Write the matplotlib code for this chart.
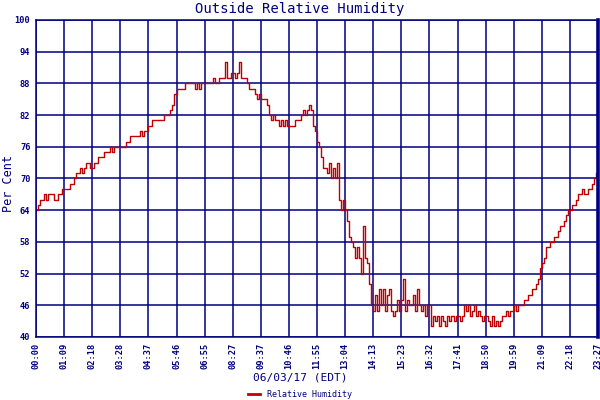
import numpy as np
import matplotlib
matplotlib.use("Agg")
import matplotlib.pyplot as plt
from matplotlib.lines import Line2D

# Readings, one every ~2 px of the original chart (14 per grid interval)
humidity = [
    64, 65, 66, 66, 67, 66, 67, 67, 67, 66, 66, 67, 67, 68,
    68, 68, 68, 69, 69, 70, 71, 71, 72, 71, 72, 73, 73, 72,
    72, 73, 73, 74, 74, 74, 75, 75, 75, 76, 75, 76, 76, 76,
    76, 76, 76, 77, 77, 78, 78, 78, 78, 78, 79, 78, 79, 79,
    80, 80, 81, 81, 81, 81, 81, 81, 82, 82, 82, 83, 84, 86,
    87, 87, 87, 87, 88, 88, 88, 88, 88, 87, 88, 87, 88, 88,
    88, 88, 88, 88, 89, 88, 88, 89, 89, 89, 92, 89, 89, 90,
    90, 89, 90, 92, 89, 89, 89, 88, 87, 87, 87, 86, 85, 86,
    85, 85, 85, 84, 82, 81, 82, 81, 81, 80, 81, 80, 81, 80,
    80, 80, 80, 81, 81, 81, 82, 83, 82, 83, 84, 83, 80, 79,
    77, 76, 74, 72, 72, 71, 73, 70, 72, 70, 73, 66, 64, 66,
    64, 62, 59, 58, 57, 55, 57, 55, 52, 61, 55, 54, 50, 46,
    45, 48, 45, 49, 46, 49, 45, 48, 49, 45, 44, 45, 47, 45,
    47, 51, 45, 47, 46, 46, 48, 45, 49, 46, 45, 46, 44, 46,
    46, 42, 44, 43, 44, 42, 44, 43, 42, 44, 43, 44, 43, 44,
    44, 43, 44, 46, 45, 46, 44, 45, 46, 44, 45, 44, 43, 44,
    44, 43, 42, 44, 42, 43, 42, 43, 44, 44, 45, 44, 45, 45,
    46, 45, 46, 46, 46, 47, 47, 48, 48, 49, 49, 50, 51, 53,
    54, 55, 57, 57, 58, 58, 59, 59, 60, 61, 61, 62, 63, 64,
    64, 65, 65, 66, 67, 67, 68, 67, 67, 68, 68, 69, 70, 71, 71,
]

time_labels = ["00:00", "01:09", "02:18", "03:28", "04:37", "05:46", "06:55",
               "08:27", "09:37", "10:46", "11:55", "13:04", "14:13", "15:23",
               "16:32", "17:41", "18:50", "19:59", "21:09", "22:18", "23:27"]
y_ticks = [40, 46, 52, 58, 64, 70, 76, 82, 88, 94, 100]

navy = "#000080"
red = "#C00000"
mono = "DejaVu Sans Mono"

fig = plt.figure(figsize=(6, 4), dpi=100)
ax = fig.add_axes([0.06, 0.1575, 0.9367, 0.7925])

x = np.arange(len(humidity))
ax.plot(x, humidity, color=red, linewidth=1.0, drawstyle="steps-post")

ax.set_xlim(0, len(humidity) - 1)
ax.set_ylim(40, 100)
ax.set_xticks(np.linspace(0, len(humidity) - 1, len(time_labels)))
ax.set_xticklabels(time_labels, rotation=90, fontsize=6.2, family=mono,
                   fontweight="bold", color=navy)
ax.set_yticks(y_ticks)
ax.set_yticklabels([str(v) for v in y_ticks], fontsize=6.2, family=mono,
                   fontweight="bold", color=navy)
ax.tick_params(length=0, pad=4)
ax.grid(True, color=navy, linewidth=1.1)
ax.set_axisbelow(True)
for side in ["left", "bottom", "top", "right"]:
    ax.spines[side].set_color(navy)
    ax.spines[side].set_linewidth(1.1)
ax.spines["right"].set_linewidth(2.6)

fig.text(0.5, 0.977, "Outside Relative Humidity", ha="center", va="center",
         fontsize=10, family=mono, color=navy)
fig.text(0.014, 0.54, "Per Cent", rotation=90, ha="center", va="center",
         fontsize=8.5, family=mono, color=navy)
fig.text(0.5, 0.055, "06/03/17 (EDT)", ha="center", va="center",
         fontsize=8, family=mono, color=navy)

handles = [Line2D([], [], color=red, linewidth=2, label="Relative Humidity")]
leg = fig.legend(handles=handles, loc="center", bbox_to_anchor=(0.5, 0.013),
                 frameon=False, handlelength=1.5,
                 prop={"family": mono, "size": 6})
for t in leg.get_texts():
    t.set_color(navy)

fig.savefig("out.png", dpi=100)
